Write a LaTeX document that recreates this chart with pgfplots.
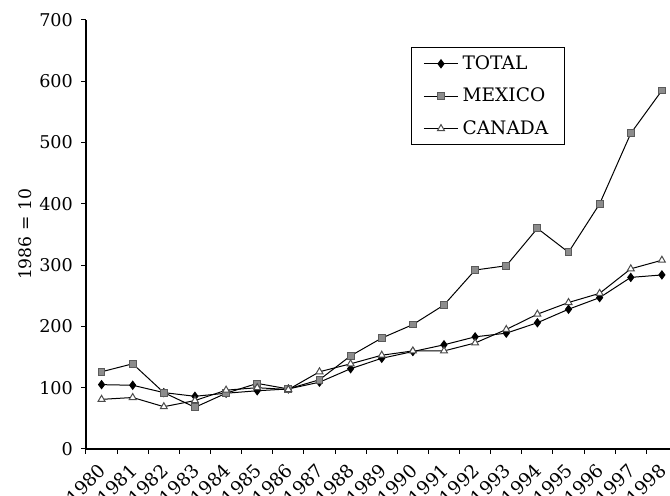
\documentclass[border=0pt]{standalone}
\usepackage{fontspec}
\setmainfont{DejaVu Serif}
\usepackage{pgfplots}
\pgfplotsset{compat=1.18}
\definecolor{mexfill}{RGB}{140,140,140}
\definecolor{mexdraw}{RGB}{90,90,90}
\begin{document}
\fontsize{8.6pt}{10pt}\selectfont
\begin{tikzpicture}
\path[use as bounding box] (-43pt,-23.5pt) rectangle (292pt,224.5pt);
\begin{axis}[
  scale only axis,
  width=292pt, height=214.5pt,
  xmin=1979.5, xmax=1998.26,
  ymin=0, ymax=700,
  axis x line*=bottom, axis y line*=left,
  axis line style={line width=0.6pt},
  tick align=outside,
  ytick={0,100,...,700},
  xtick={1980,...,1998},
  minor xtick={1979.5,1980.5,...,1998.5},
  major x tick style={draw=none},
  minor x tick style={line width=0.5pt, black},
  major tick length=2.5pt, minor tick length=2.5pt,
  y tick style={line width=0.5pt, black},
  /pgf/number format/assume math mode=true,
  /pgf/number format/1000 sep={},
  xticklabel style={font=\fontsize{9.2pt}{10pt}\selectfont, anchor=north east, inner sep=1pt, xshift=-2pt, yshift=-2.5pt, rotate=45},
  yticklabel style={font=\fontsize{8.8pt}{10pt}\selectfont, xshift=-1pt},
  ylabel={1986 = 10},
  ylabel style={font=\fontsize{8.6pt}{10pt}\selectfont, at={(axis description cs:-0.104,0.5)}, anchor=center},
  legend style={at={(0.82,0.937)}, anchor=north east, draw=black, line width=0.6pt,
    font=\fontsize{9.3pt}{11pt}\selectfont, inner xsep=6pt, inner ysep=2pt, row sep=4pt},
  legend image post style={line width=0.5pt},
  legend cell align=left,
  clip=false,
]
\addplot[black, line width=0.5pt, mark=diamond*, mark size=2pt, mark options={fill=black}] coordinates {
(1980,105) (1981,104) (1982,92) (1983,86) (1984,91) (1985,95) (1986,98) (1987,109) (1988,131) (1989,148) (1990,159) (1991,170) (1992,183) (1993,189) (1994,206) (1995,228) (1996,247) (1997,280) (1998,284)};
\addlegendentry{TOTAL}
\addplot[black, line width=0.5pt, mark=square*, mark size=1.7pt, mark options={fill=mexfill, draw=mexdraw}] coordinates {
(1980,126) (1981,139) (1982,92) (1983,68) (1984,91) (1985,107) (1986,98) (1987,113) (1988,152) (1989,181) (1990,203) (1991,235) (1992,292) (1993,299) (1994,360) (1995,321) (1996,400) (1997,515) (1998,585)};
\addlegendentry{MEXICO}
\addplot[black, line width=0.5pt, mark=triangle*, mark size=2pt, mark options={fill=white, draw=black!70}] coordinates {
(1980,81) (1981,84) (1982,69) (1983,79) (1984,96) (1985,100) (1986,97) (1987,126) (1988,139) (1989,153) (1990,160) (1991,160) (1992,173) (1993,195) (1994,220) (1995,239) (1996,254) (1997,294) (1998,308)};
\addlegendentry{CANADA}
\end{axis}
\end{tikzpicture}
\end{document}
